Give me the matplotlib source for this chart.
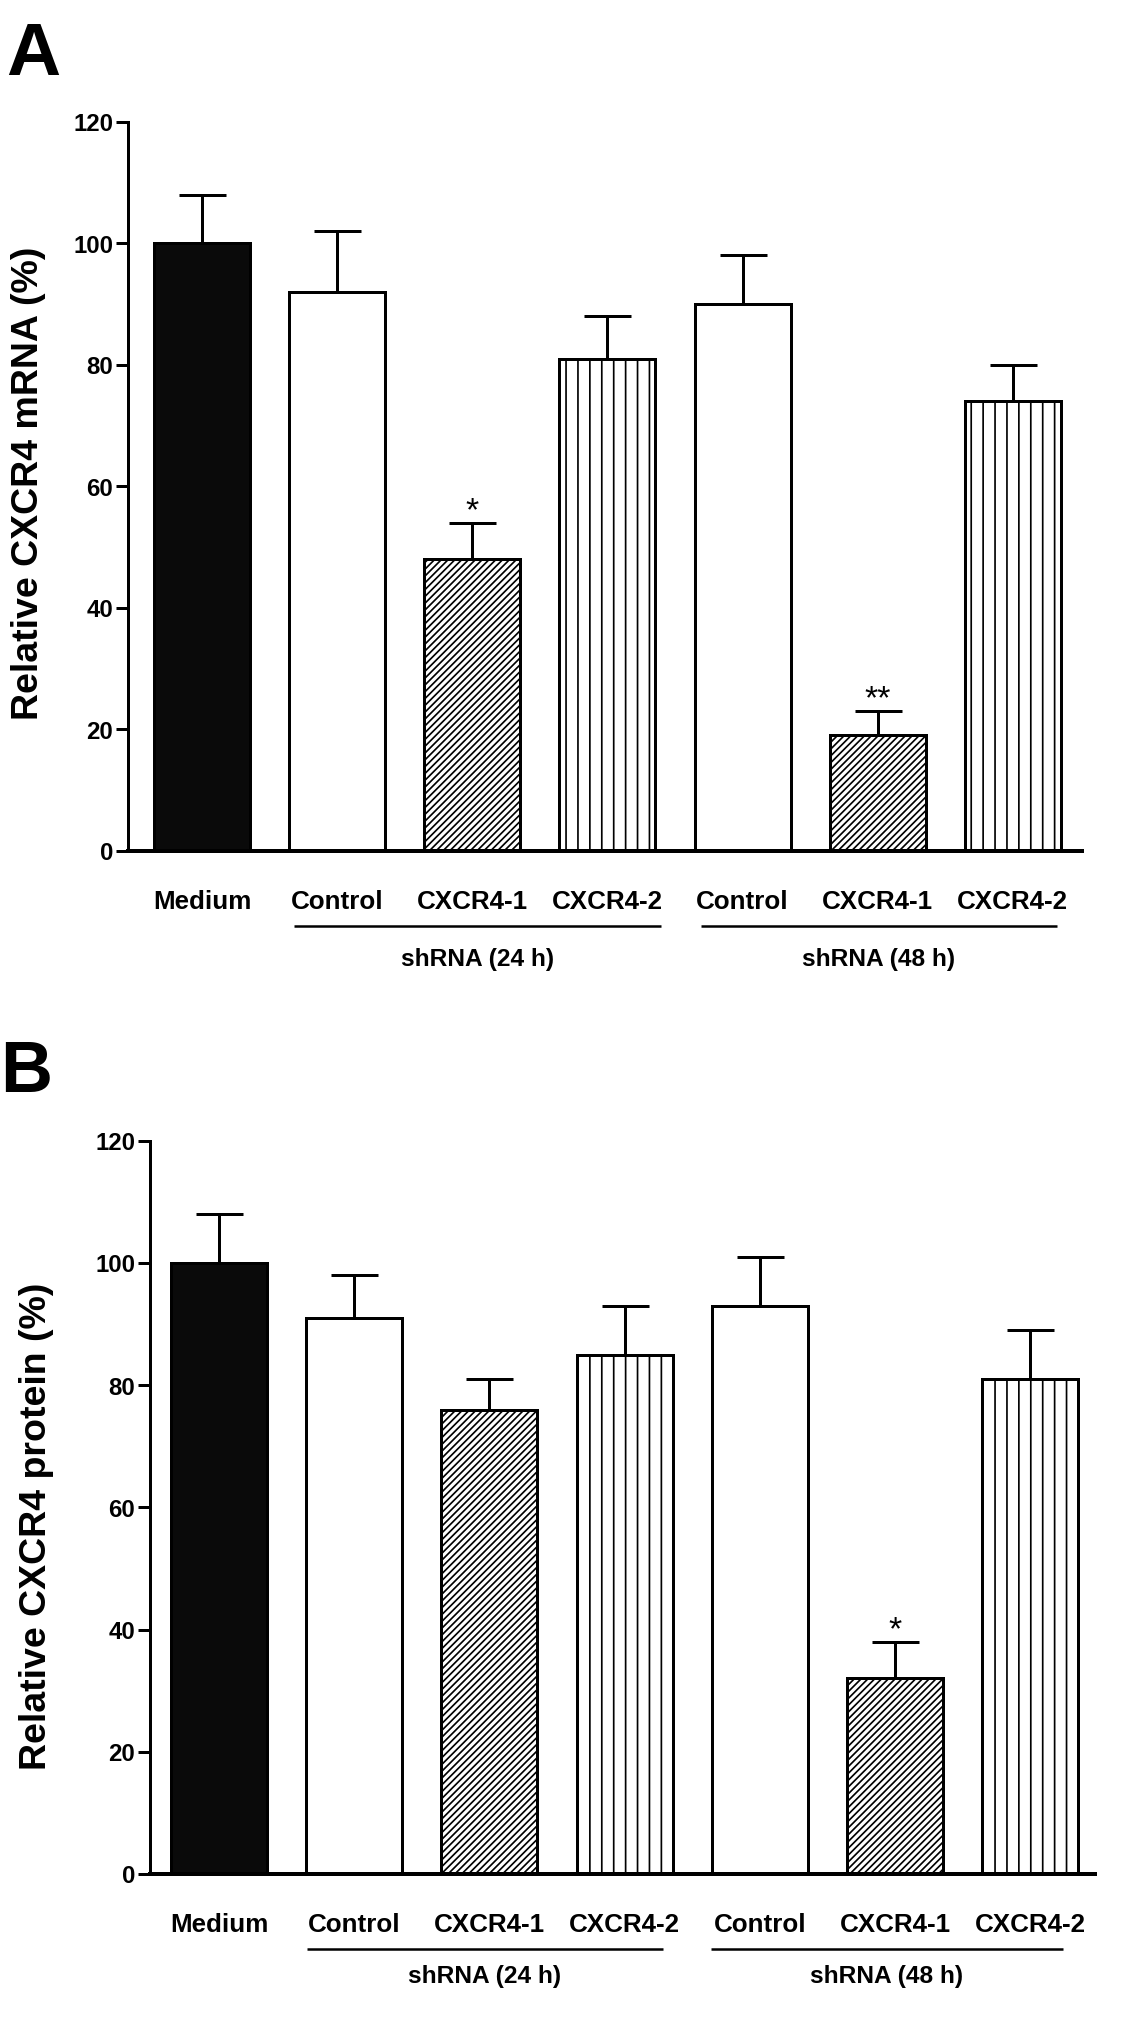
import matplotlib
matplotlib.use("Agg")
import matplotlib.pyplot as plt
import matplotlib.transforms as mtransforms

# ---------------- data ----------------
categories = ["Medium", "Control", "CXCR4-1", "CXCR4-2", "Control", "CXCR4-1", "CXCR4-2"]
groups = ["shRNA (24 h)", "shRNA (48 h)"]
mrna_mean = [100, 92, 48, 81, 90, 19, 74]
mrna_err = [8, 10, 6, 7, 8, 4, 6]
mrna_sig = ["", "", "*", "", "", "**", ""]
protein_mean = [100, 91, 76, 85, 93, 32, 81]
protein_err = [8, 7, 5, 8, 8, 6, 8]
protein_sig = ["", "", "", "", "", "*", ""]
yticks = [0, 20, 40, 60, 80, 100, 120]
ylabels = ["Relative CXCR4 mRNA (%)", "Relative CXCR4 protein (%)"]
panel_letters = ["A", "B"]

# ---------------- style ----------------
D = 143
W, H = 1122, 2018


def pt(px):
    return px * 72.0 / D


FONT = "Liberation Sans"
plt.rcParams["font.family"] = [FONT, "DejaVu Sans"]
plt.rcParams["hatch.color"] = "black"
plt.rcParams["hatch.linewidth"] = pt(1.7)

facecolors = ["#0a0a0a", "white", "white", "white", "white", "white", "white"]
hatches = [None, None, "///////", "||", None, "///////", "||"]

fig = plt.figure(figsize=((W + 0.3) / D, (H + 0.3) / D), dpi=D)


def px_off(ax, dy_px):
    base = mtransforms.blended_transform_factory(ax.transData, ax.transAxes)
    return base + mtransforms.ScaledTranslation(0, -dy_px / D, fig.dpi_scale_trans)


def panel(rect, means, errs, sig, ylabel, xlim, glines, label_xy, group_off):
    ax = fig.add_axes(rect)
    x = list(range(len(categories)))
    ax.bar(x, means, width=0.71, color=facecolors, edgecolor="black",
           linewidth=pt(3), hatch=hatches, zorder=2)
    ax.errorbar(x, means, yerr=[[0] * len(errs), errs], fmt="none",
                ecolor="black", elinewidth=pt(3), capsize=pt(23.5),
                capthick=pt(3), zorder=3)
    for xi, m, e, s in zip(x, means, errs, sig):
        if s:
            ax.annotate(s, xy=(xi, m + e), xytext=(0, pt(3)),
                        textcoords="offset points", ha="center",
                        va="baseline", fontsize=pt(34), fontweight="normal")
    ax.set_xlim(*xlim)
    ax.set_ylim(0, 120)
    ax.set_yticks(yticks)
    ax.set_yticklabels([str(t) for t in yticks], fontsize=pt(24),
                       fontweight="bold")
    ax.set_xticks([])
    ax.tick_params(axis="y", direction="out", length=pt(12), width=pt(3),
                   pad=pt(3))
    for sp in ["top", "right"]:
        ax.spines[sp].set_visible(False)
    ax.spines["left"].set_linewidth(pt(3))
    ax.spines["bottom"].set_linewidth(pt(4))
    ax.set_ylabel(ylabel, fontsize=pt(37.5), fontweight="bold")
    ax.yaxis.label.set_rotation_mode("default")
    ax.yaxis.label.set_va("center")
    ax.yaxis.label.set_ha("center")
    ax.yaxis.set_label_coords(*label_xy)
    # category labels
    for xi, c in zip(x, categories):
        ax.text(xi, 0, c, transform=px_off(ax, 51), ha="center", va="center",
                fontsize=pt(26), fontweight="bold")
    # group lines + labels
    for (x0, x1), g in zip(glines, groups):
        ax.plot([x0, x1], [0, 0], color="black", linewidth=pt(2.5),
                transform=px_off(ax, 75), clip_on=False, solid_capstyle="butt")
        ax.text((x0 + x1) / 2, 0, g, transform=px_off(ax, group_off),
                ha="center", va="center", fontsize=pt(24.5), fontweight="bold")
    return ax


# top panel (A)
panel([128 / W, 1 - 851 / H, (1082 - 128) / W, 729 / H],
      mrna_mean, mrna_err, mrna_sig, ylabels[0], (-0.547, 6.514),
      [(0.68, 3.40), (3.69, 6.33)], (-0.104, 0.505), 108)
# bottom panel (B)
panel([150 / W, 1 - 1874 / H, (1095 - 150) / W, 733 / H],
      protein_mean, protein_err, protein_sig, ylabels[1], (-0.51, 6.48),
      [(0.65, 3.28), (3.64, 6.24)], (-0.1206, 0.475), 102)

fig.text(6 / W, 1 - 75 / H, panel_letters[0], ha="left", va="baseline",
         fontsize=pt(75), fontweight="bold")
fig.text(0 / W, 1 - 1092 / H, panel_letters[1], ha="left", va="baseline",
         fontsize=pt(72), fontweight="bold")

fig.savefig("out.png", dpi=D, facecolor="white")
